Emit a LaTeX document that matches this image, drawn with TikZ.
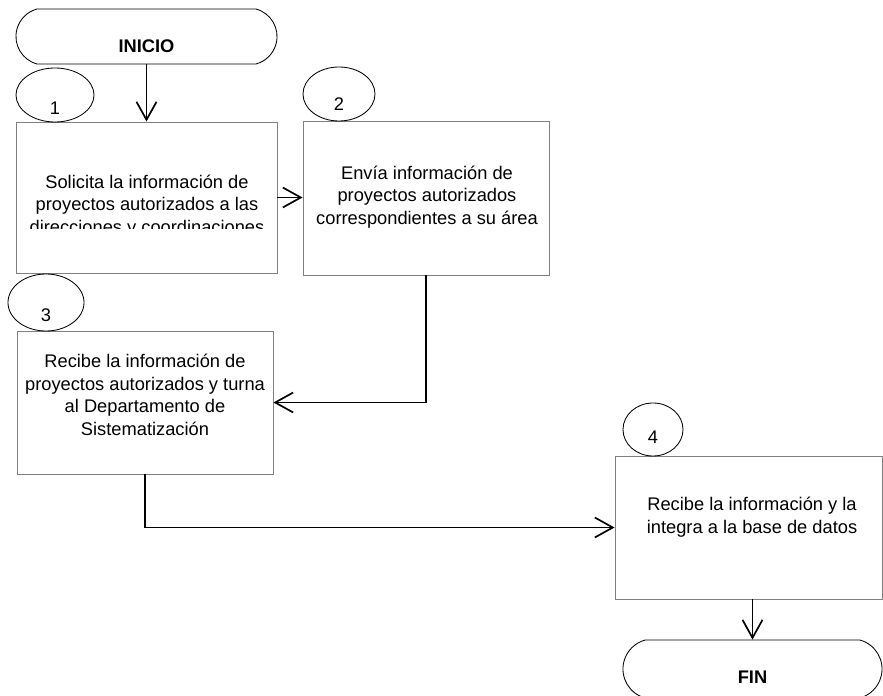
\documentclass[tikz,border=0pt]{standalone}
\usepackage{fontspec}
\setmainfont{Liberation Sans}
\usetikzlibrary{shapes.geometric,shapes.misc,arrows.meta}

\begin{document}
\begin{tikzpicture}[x=0.025cm, y=-0.025cm,
    box/.style ={rectangle, draw=gray, line width=0.6pt, inner sep=0pt},
    numtag/.style ={ellipse, draw, line width=0.6pt, inner sep=0pt},
    terminal/.style ={rounded rectangle, rounded rectangle arc length=150, draw, line width=0.6pt,
                      inner sep=0pt},
    txt/.style ={align=center, font=\fontsize{13}{16}\selectfont},
    bold/.style ={font=\fontsize{13}{16}\selectfont\bfseries},
    flow/.style ={line width=1.2pt, -{Straight Barb[length=0.45cm, width=0.5cm]}}]
   \useasboundingbox (0,0) rectangle (883,696);

   % start and end
   \node[terminal, minimum width=6.525cm, minimum height=1.375cm,
         label={[bold, yshift=-0.25cm]center:INICIO}] (inicio) at (146.5,36.5) {};
   \node[terminal, minimum width=6.475cm, minimum height=1.45cm,
         label={[bold, yshift=-0.2cm]center:FIN}] (fin) at (752.5,669) {};

   % boxes
   \node[box, minimum width=6.525cm, minimum height=3.775cm] (b1) at (146.5,197.5) {};
   \node[box, minimum width=6.15cm,  minimum height=3.85cm]  (b2) at (426,198) {};
   \node[box, minimum width=6.4cm,   minimum height=3.575cm] (b3) at (145,402.5) {};
   \node[box, minimum width=6.675cm, minimum height=3.575cm] (b4) at (748.5,527.5) {};

   % step numbers
   \node[numtag, minimum width=1.95cm, minimum height=1.35cm,
         label={[txt, yshift=-0.32cm]center:1}] (e1) at (55,95) {};
   \node[numtag, minimum width=1.8cm, minimum height=1.35cm,
         label={[txt, yshift=-0.25cm]center:2}] (e2) at (339,94) {};
   \node[numtag, minimum width=1.9cm, minimum height=1.425cm,
         label={[txt, yshift=-0.31cm]center:3}] (e3) at (46,302.5) {};
   \node[numtag, minimum width=1.5cm, minimum height=1.325cm,
         label={[txt, yshift=-0.19cm]center:4}] (e4) at (653,429.5) {};

   % texts
   \begin{scope}
     \clip (b1.north west) rectangle (277,228.5);
     \node[txt] (t1) at (147,206) {Solicita la información de\\proyectos autorizados a las\\direcciones y coordinaciones};
   \end{scope}
   \node[txt] (t2) at (427,197) {Envía información de\\proyectos autorizados\\correspondientes a su área};
   \node[txt] (t3) at (145,395) {Recibe la información de\\proyectos autorizados y turna\\al Departamento de\\Sistematización};
   \node[txt] (t4) at (752,517) {Recibe la información y la\\integra a la base de datos};

   % connectors
   \draw[flow] (inicio) -- (b1);
   \draw[flow] (b1.east) -- (b1.east -| b2.west);
   \draw[flow] (b2.south) |- (b3.east);
   \draw[flow] (b3.south) |- (b4.west);
   \draw[flow] (fin.north |- b4.south) -- (fin.north);
\end{tikzpicture}
\end{document}
